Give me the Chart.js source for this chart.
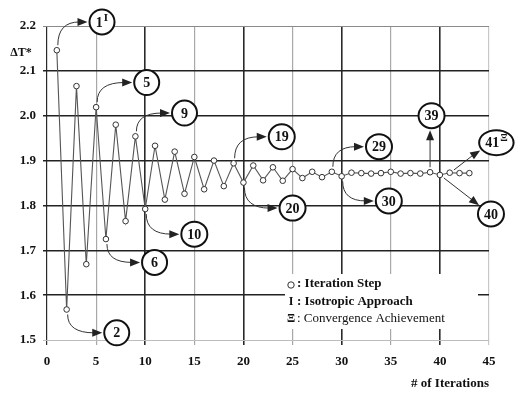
<!DOCTYPE html>
<html>
<head>
<meta charset="utf-8">
<script src="https://cdn.jsdelivr.net/npm/chart.js@4"></script>
<style>
  body { margin: 0; background: #fff; }
  #wrap { width: 515px; height: 393px; position: relative; }
</style>
</head>
<body>
<div id="wrap"><canvas id="convergenceChart"></canvas></div>
<script>
'use strict'
// iteration number and dimensionless temperature difference
var iterations = [1, 2, 3, 4, 5, 6, 7, 8, 9, 10, 11, 12, 13, 14, 15, 16, 17, 18, 19, 20, 21, 22,
    23, 24, 25, 26, 27, 28, 29, 30, 31, 32, 33, 34, 35, 36, 37, 38, 39, 40, 41, 42, 43];
var deltaT = [2.146, 1.568, 2.066, 1.669, 2.019, 1.725, 1.980, 1.765, 1.954, 1.792,
    1.933, 1.813, 1.920, 1.826, 1.908, 1.836, 1.900, 1.843, 1.894, 1.851,
    1.889, 1.856, 1.885, 1.855, 1.881, 1.861, 1.875, 1.863, 1.875, 1.865,
    1.873, 1.872, 1.871, 1.872, 1.875, 1.871, 1.872, 1.871, 1.874, 1.868,
    1.873, 1.872, 1.872];

var xTicks = [0, 5, 10, 15, 20, 25, 30, 35, 40, 45];
var yTicks = ['1.5', '1.6', '1.7', '1.8', '1.9', '2.0', '2.1', '2.2'];

// call-out bubbles: which iteration they point at, where the bubble sits (data units)
var calloutLabels = ['1', '5', '9', '19', '29', '39', '41', '2', '6', '10', '20', '30', '40'];
var calloutSup = ['Ι', '', '', '', '', '', 'Ξ', '', '', '', '', '', ''];
var calloutPoint = [1, 5, 9, 19, 29, 39, 41, 2, 6, 10, 20, 30, 40];
var calloutX = [5.6, 10.15, 14.0, 23.9, 33.8, 39.15, 45.75, 7.1, 10.95, 15.0, 25.0, 34.8, 45.2];
var calloutY = [2.209, 2.074, 2.006, 1.953, 1.931, 2.0, 1.94, 1.516, 1.673, 1.736, 1.794, 1.81, 1.781];
var calloutKind = ['up', 'up', 'up', 'up', 'up', 'vert', 'diag', 'down', 'down', 'down', 'down', 'down', 'diag'];

var legendSymbols = ['○', 'Ι', 'Ξ'];
var legendTexts = [': Iteration Step', ': Isotropic Approach', ': Convergence Achievement'];

var serif = "'Liberation Serif', 'DejaVu Serif', serif";

var points = iterations.map(function (n, i) { return {x: n, y: deltaT[i]}; });

function near(a, b) { return Math.abs(a - b) < 1e-6; }

function arrowHead(ctx, x, y, ang) {
    ctx.save();
    ctx.translate(x, y);
    ctx.rotate(ang);
    ctx.beginPath();
    ctx.moveTo(0, 0);
    ctx.lineTo(-10, -4);
    ctx.lineTo(-10, 4);
    ctx.closePath();
    ctx.fill();
    ctx.restore();
}

var decorations = {
    id: 'decorations',
    afterDraw: function (chart) {
        var ctx = chart.ctx;
        var xs = chart.scales.x, ys = chart.scales.y;
        ctx.save();

        // legend box covering the grid
        ctx.fillStyle = '#fff';
        ctx.fillRect(285, 274, 193, 55);
        ctx.fillStyle = '#111';
        ctx.textBaseline = 'middle';
        legendSymbols.forEach(function (s, i) {
            var yy = 284 + i * 17.5;
            if (i === 0) {
                ctx.strokeStyle = '#333';
                ctx.lineWidth = 1;
                ctx.beginPath();
                ctx.arc(291, yy + 1, 3.2, 0, Math.PI * 2);
                ctx.stroke();
            } else {
                ctx.font = 'bold 12px ' + serif;
                ctx.textAlign = 'center';
                ctx.fillText(s, 291, yy);
            }
            ctx.font = (i === 2 ? '' : 'bold ') + '13px ' + serif;
            ctx.textAlign = 'left';
            ctx.fillText(legendTexts[i], 297, yy);
        });

        // y axis label
        ctx.font = 'bold 12px ' + serif;
        ctx.textAlign = 'center';
        ctx.fillText('ΔT*', 21, 53);

        // call-outs
        calloutLabels.forEach(function (lab, i) {
            var p = iterations.indexOf(calloutPoint[i]);
            var px = xs.getPixelForValue(iterations[p]);
            var py = ys.getPixelForValue(deltaT[p]);
            var cx = xs.getPixelForValue(calloutX[i]);
            var cy = ys.getPixelForValue(calloutY[i]);
            ctx.font = 'bold 14px ' + serif;
            var w = ctx.measureText(lab).width;
            var sw = 0;
            if (calloutSup[i]) {
                ctx.font = 'bold 11px ' + serif;
                sw = ctx.measureText(calloutSup[i]).width + 1;
            }
            var rx = Math.max(12.5, (w + sw) / 2 + 6);
            var ry = 12.5;

            ctx.strokeStyle = '#333';
            ctx.fillStyle = '#222';
            ctx.lineWidth = 1;
            var kind = calloutKind[i];
            if (kind === 'up' || kind === 'down') {
                var dir = kind === 'up' ? -1 : 1;
                var sx = px + 1, sy = py + dir * 5;
                var ex = cx - rx - 2, ey = cy;
                ctx.beginPath();
                ctx.moveTo(sx, sy);
                ctx.quadraticCurveTo(sx, ey, ex - 8, ey);
                ctx.stroke();
                arrowHead(ctx, ex, ey, 0);
            } else if (kind === 'vert') {
                var top = cy + ry + 2;
                ctx.beginPath();
                ctx.moveTo(px, py - 5);
                ctx.lineTo(px, top + 8);
                ctx.stroke();
                arrowHead(ctx, px, top, -Math.PI / 2);
            } else {
                var ang = Math.atan2(cy - py, cx - px);
                var tx = cx - Math.cos(ang) * (rx + 2);
                var ty = cy - Math.sin(ang) * (ry + 2);
                ctx.beginPath();
                ctx.moveTo(px + Math.cos(ang) * 5, py + Math.sin(ang) * 5);
                ctx.lineTo(tx - Math.cos(ang) * 8, ty - Math.sin(ang) * 8);
                ctx.stroke();
                arrowHead(ctx, tx, ty, ang);
            }

            ctx.fillStyle = '#fff';
            ctx.strokeStyle = '#111';
            ctx.lineWidth = 2;
            ctx.beginPath();
            ctx.ellipse(cx, cy, rx, ry, 0, 0, Math.PI * 2);
            ctx.fill();
            ctx.stroke();

            ctx.fillStyle = '#111';
            ctx.textAlign = 'left';
            ctx.font = 'bold 14px ' + serif;
            var x0 = cx - (w + sw) / 2;
            ctx.fillText(lab, x0, cy + 1);
            if (calloutSup[i]) {
                ctx.font = 'bold 11px ' + serif;
                ctx.fillText(calloutSup[i], x0 + w + 1, cy - 4);
            }
        });
        ctx.restore();
    }
};

var chartArea = document.getElementById('convergenceChart');
var convergenceChart = new Chart(chartArea, {
    type: 'scatter',
    data: {
        datasets: [{
            data: points,
            showLine: true,
            borderColor: '#555',
            borderWidth: 1.1,
            pointRadius: 2.8,
            pointBackgroundColor: '#fff',
            pointBorderColor: '#333',
            pointBorderWidth: 1,
            tension: 0
        }]
    },
    options: {
        responsive: true,
        maintainAspectRatio: false,
        animation: false,
        layout: { padding: { top: 26, right: 26, left: 0, bottom: 0 } },
        plugins: {
            legend: { display: false },
            tooltip: { enabled: false }
        },
        scales: {
            x: {
                type: 'linear',
                min: xTicks[0],
                max: xTicks[xTicks.length - 1],
                afterBuildTicks: function (scale) {
                    scale.ticks = xTicks.map(function (v) { return {value: v}; });
                },
                afterFit: function (scale) { scale.height = 53; },
                border: { display: false },
                grid: {
                    color: function (c) {
                        var v = c.tick.value;
                        if (v === 45) return '#c8c8c8';
                        return v % 10 === 0 ? '#2a2a2a' : '#a8a8a8';
                    },
                    lineWidth: function (c) {
                        var v = c.tick.value;
                        return (v % 10 === 0 && v !== 0 && v !== 45) ? 1.6 : 1.2;
                    },
                    tickLength: 5
                },
                ticks: {
                    padding: 9,
                    color: '#111',
                    font: { family: serif, size: 13, weight: 'bold' },
                    callback: function (v) { return v; }
                },
                title: {
                    display: true,
                    text: '# of Iterations',
                    align: 'end',
                    color: '#111',
                    font: { family: serif, size: 13, weight: 'bold' },
                    padding: { top: 0, bottom: 2 }
                }
            },
            y: {
                min: 1.5,
                max: 2.2,
                afterBuildTicks: function (scale) {
                    scale.ticks = yTicks.map(function (v) { return {value: parseFloat(v)}; });
                },
                afterFit: function (scale) { scale.width = 47; },
                border: { display: false },
                grid: {
                    color: function (c) {
                        var v = c.tick.value;
                        if (near(v, 1.5)) return '#bdbdbd';
                        if (near(v, 2.2)) return '#8a8a8a';
                        return '#222';
                    },
                    lineWidth: function (c) {
                        var v = c.tick.value;
                        return (near(v, 1.5) || near(v, 2.2)) ? 1 : 1.5;
                    },
                    tickLength: 4
                },
                ticks: {
                    padding: 7,
                    color: '#111',
                    font: { family: serif, size: 13, weight: 'bold' },
                    callback: function (v) { return v.toFixed(1); }
                }
            }
        }
    },
    plugins: [decorations]
});
</script>
</body>
</html>
